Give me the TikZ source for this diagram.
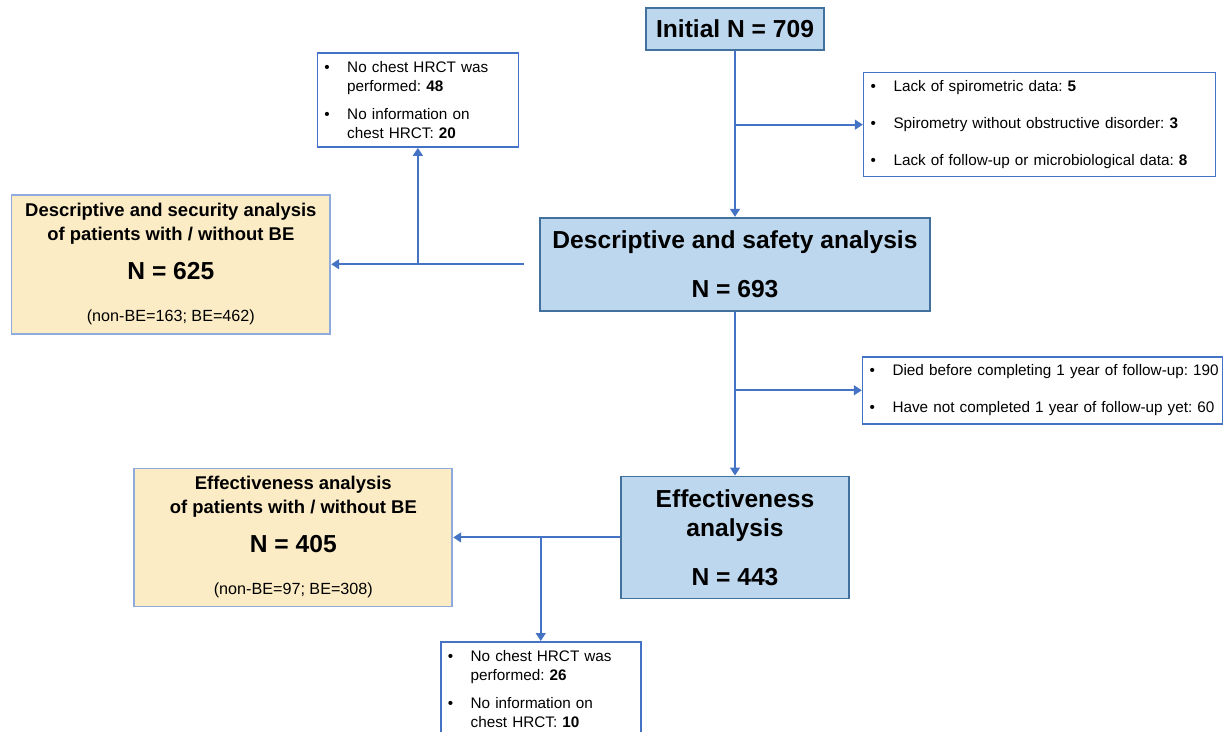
\documentclass[tikz,border=0pt]{standalone}
\usepackage{fontspec}
\setmainfont{Liberation Sans}
\usetikzlibrary{positioning, arrows.meta}
\definecolor{flowblue}{HTML}{4472C4}
\definecolor{boxblue}{HTML}{BDD7EE}
\definecolor{boxedge}{HTML}{41719C}
\definecolor{lightyellow}{HTML}{FCECC6}
\definecolor{yellowedge}{HTML}{8FAADC}
\newcommand{\bitem}[1]{\mbox{\makebox[13pt][l]{\textbullet}#1}}
\newcommand{\bcont}[1]{\mbox{\hspace*{13pt}#1}}
\frenchspacing

\begin{document}
\begin{tikzpicture}[x=0.02cm, y=-0.02cm,
    stage/.style={draw=boxedge, line width=1pt, fill=boxblue, inner sep=2pt,
                  align=center, font=\fontsize{14}{16.4}\selectfont\bfseries},
    subset/.style={draw=yellowedge, line width=1pt, fill=lightyellow, inner sep=2pt,
                   align=center, font=\fontsize{10.5}{13.3}\selectfont\bfseries},
    excl/.style={draw=flowblue, line width=0.9pt, fill=white, inner sep=4pt,
                 align=left, font=\fontsize{8.7}{10.8}\selectfont},
    arr/.style={flowblue, line width=1.1pt, -{Triangle[length=4.5pt,width=5.5pt]}}]
  \useasboundingbox (0,0) rectangle (1225,731);

  % main column
  \node[stage, minimum width=3.56cm, minimum height=0.84cm] (init) at (735,29)
    {Initial N = 709};
  \node[stage, below=3.32cm of init, minimum width=7.8cm, minimum height=1.86cm] (safety)
    {Descriptive and safety analysis\\[11.6pt]
     N = 693};
  \node[stage, below=3.28cm of safety, minimum width=4.56cm, minimum height=2.44cm] (effect)
    {Effectiveness\\
     analysis\\[11.4pt]
     N = 443};

  % subsets with / without BE
  \node[subset, left=4.16cm of safety, minimum width=6.38cm, minimum height=2.78cm] (descset)
    {Descriptive and security analysis\\
     of patients with / without BE\\[9.2pt]
     {\fontsize{14}{13.3}\selectfont N = 625}\\[10.7pt]
     {\fontsize{9.2}{13.3}\selectfont\mdseries (non-BE=163; BE=462)}};
  \node[subset, left=3.34cm of effect, minimum width=6.36cm, minimum height=2.76cm] (effset)
    {Effectiveness analysis\\
     of patients with / without BE\\[9.2pt]
     {\fontsize{14}{13.3}\selectfont N = 405}\\[10.7pt]
     {\fontsize{9.2}{13.3}\selectfont\mdseries (non-BE=97; BE=308)}};

  % exclusions
  \node[excl, below right=0.42cm and 0.76cm of init, text width=192.3pt,
        minimum height=2.08cm] (exclspiro)
    {\bitem{Lack of spirometric data: \textbf{5}}\\[10.2pt]
     \bitem{Spirometry without obstructive disorder: \textbf{3}}\\[10.2pt]
     \bitem{Lack of follow-up or microbiological data: \textbf{8}}};
  \node[excl, above left=1.38cm and 0.4cm of safety, text width=106.4pt,
        minimum height=1.88cm] (exclhrct)
    {\bitem{No chest HRCT was}\\
     \bcont{performed: \textbf{48}}\\[5.1pt]
     \bitem{No information on}\\
     \bcont{chest HRCT: \textbf{20}}};
  \node[excl, above right=1.02cm and 0.24cm of effect, text width=196.9pt,
        minimum height=1.34cm] (exclfollow)
    {\bitem{Died before completing 1 year of follow-up: 190}\\[10.2pt]
     \bitem{Have not completed 1 year of follow-up yet: 60}};
  \node[excl, anchor=north west, text width=105.8pt,
        minimum height=1.88cm] (exclhrctb) at (440,641)
    {\bitem{No chest HRCT was}\\
     \bcont{performed: \textbf{26}}\\[5.1pt]
     \bitem{No information on}\\
     \bcont{chest HRCT: \textbf{10}}};

  % connectors
  \draw[arr] (init) -- (safety);
  \draw[arr] (init.south |- exclspiro.west) -- (exclspiro.west);
  \draw[arr] ([xshift=-0.3cm]safety.west) -- (descset.east);
  \draw[arr] (exclhrct.south |- descset.east) -- (exclhrct.south);
  \draw[arr] (safety) -- (effect);
  \draw[arr] (safety.south |- exclfollow.west) -- (exclfollow.west);
  \draw[arr] (effect.west) -- (effset.east);
  \draw[arr] (exclhrctb.north |- effect.west) -- (exclhrctb.north);
\end{tikzpicture}
\end{document}
